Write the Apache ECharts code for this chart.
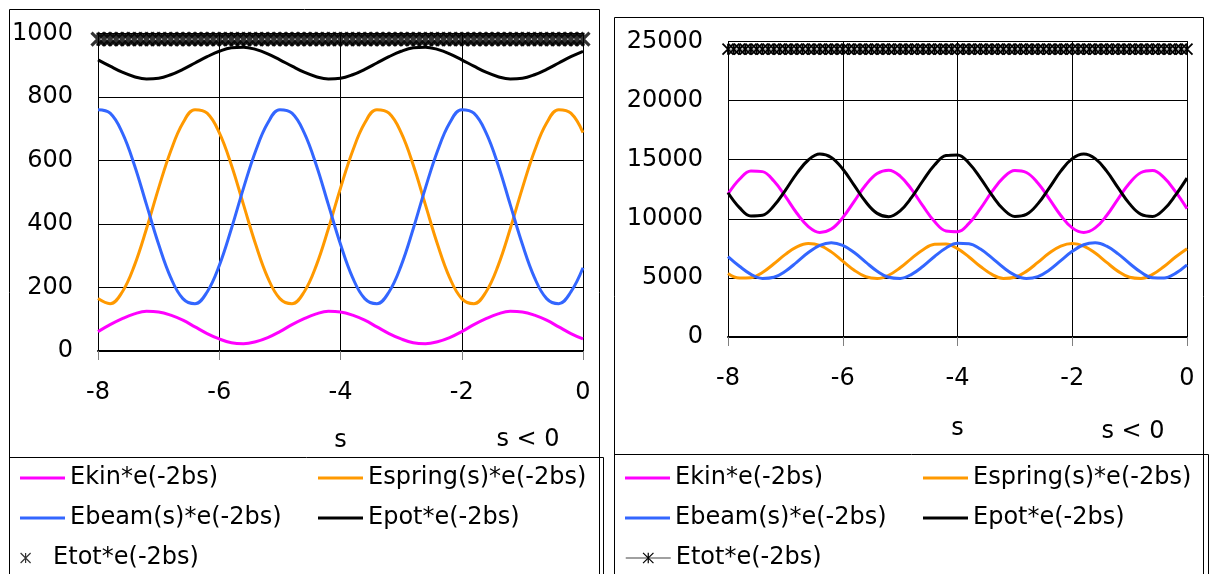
<!DOCTYPE html>
<html>
<head>
<meta charset="utf-8">
<title>Energies * e(-2bs)</title>
<script src="https://cdn.jsdelivr.net/npm/echarts@6/dist/echarts.min.js"></script>
<style>
html, body { margin: 0; padding: 0; background: #fff; }
#chart { width: 1215px; height: 574px; }
</style>
</head>
<body>
<div id="chart"></div>
<script>
// s positions of the curves (step 0.2) and of the Etot markers (step 0.1)
const sPts = [-8, -7.8, -7.6, -7.4, -7.2, -7, -6.8, -6.6, -6.4, -6.2, -6, -5.8, -5.6, -5.4, -5.2, -5,
  -4.8, -4.6, -4.4, -4.2, -4, -3.8, -3.6, -3.4, -3.2, -3, -2.8, -2.6, -2.4, -2.2, -2, -1.8, -1.6,
  -1.4, -1.2, -1, -0.8, -0.6, -0.4, -0.2, 0]
const sDense = [-8, -7.9, -7.8, -7.7, -7.6, -7.5, -7.4, -7.3, -7.2, -7.1, -7, -6.9, -6.8, -6.7, -6.6,
  -6.5, -6.4, -6.3, -6.2, -6.1, -6, -5.9, -5.8, -5.7, -5.6, -5.5, -5.4, -5.3, -5.2, -5.1, -5, -4.9,
  -4.8, -4.7, -4.6, -4.5, -4.4, -4.3, -4.2, -4.1, -4, -3.9, -3.8, -3.7, -3.6, -3.5, -3.4, -3.3, -3.2,
  -3.1, -3, -2.9, -2.8, -2.7, -2.6, -2.5, -2.4, -2.3, -2.2, -2.1, -2, -1.9, -1.8, -1.7, -1.6, -1.5,
  -1.4, -1.3, -1.2, -1.1, -1, -0.9, -0.8, -0.7, -0.6, -0.5, -0.4, -0.3, -0.2, -0.1, 0]

// tick labels
const xTicks = [-8, -6, -4, -2, 0]
const yTicksLeft = [0, 200, 400, 600, 800, 1000]
const yTicksRight = [0, 5000, 10000, 15000, 20000, 25000]

// left chart
const ekinLeft = [61, 83, 102, 117, 125, 123, 113, 97, 76, 55, 38, 26, 23, 29, 42,
  61, 83, 102, 117, 125, 123, 113, 97, 76, 55, 38, 26, 23, 29, 42,
  61, 83, 102, 117, 125, 123, 113, 97, 76, 55, 38]
const espringLeft = [165, 149, 186, 269, 385, 513, 630, 718, 760, 749, 688, 586, 461, 336, 231,
  165, 149, 186, 269, 385, 513, 630, 718, 760, 749, 688, 586, 461, 336, 231,
  165, 149, 186, 269, 385, 513, 630, 718, 760, 749, 688]
const ebeamLeft = [760, 749, 688, 586, 461, 336, 231, 165, 149, 186, 269, 385, 513, 630, 718,
  760, 749, 688, 586, 461, 336, 231, 165, 149, 186, 269, 385, 513, 630, 718,
  760, 749, 688, 586, 461, 336, 231, 165, 149, 186, 262]
const epotLeft = [917, 897, 878, 864, 857, 859, 870, 887, 907, 927, 944, 955, 957, 950, 936,
  917, 897, 878, 864, 857, 859, 870, 887, 907, 927, 944, 955, 957, 950, 936,
  917, 897, 878, 864, 857, 859, 870, 887, 907, 927, 944]
const etotLeft = [982, 982, 982, 982, 982, 982, 982, 982, 982, 982,
  982, 982, 982, 982, 982, 982, 982, 982, 982, 982,
  982, 982, 982, 982, 982, 982, 982, 982, 982, 982,
  982, 982, 982, 982, 982, 982, 982, 982, 982, 982,
  982, 982, 982, 982, 982, 982, 982, 982, 982, 982,
  982, 982, 982, 982, 982, 982, 982, 982, 982, 982,
  982, 982, 982, 982, 982, 982, 982, 982, 982, 982,
  982, 982, 982, 982, 982, 982, 982, 982, 982, 982, 982]

// right chart
const ekinRight = [12096, 13347, 14047, 13991, 13194, 11893, 10470, 9344, 8848, 9128, 10101, 11480,
  12859, 13832, 14112, 13616, 12490, 11067, 9766, 8969, 8913, 9613, 10864, 12296, 13487, 14088,
  13919, 13032, 11687, 10281, 9229, 8840, 9229, 10281, 11687, 13032, 13919, 14088, 13487, 12296, 10864]
const espringRight = [5375, 4981, 5013, 5461, 6193, 6993, 7626, 7905, 7748, 7201, 6425, 5649, 5102,
  4945, 5224, 5857, 6657, 7389, 7837, 7869, 7475, 6772, 5966, 5296, 4958, 5053, 5552, 6308, 7099,
  7691, 7910, 7691, 7099, 6308, 5552, 5053, 4958, 5296, 5966, 6772, 7475]
const ebeamRight = [6809, 5987, 5303, 4959, 5055, 5564, 6336, 7143, 7747, 7970, 7747, 7143, 6336,
  5564, 5055, 4959, 5303, 5987, 6809, 7526, 7928, 7896, 7439, 6692, 5875, 5229, 4945, 5105, 5663,
  6455, 7247, 7805, 7965, 7681, 7035, 6218, 5471, 5014, 4982, 5384, 6101]
const epotRight = [12205, 10948, 10243, 10300, 11101, 12410, 13841, 14973, 15472, 15191, 14212,
  12825, 11438, 10459, 10178, 10677, 11809, 13240, 14549, 15350, 15407, 14702, 13445, 12005, 10806,
  10203, 10372, 11264, 12617, 14030, 15089, 15480, 15089, 14030, 12617, 11264, 10372, 10203, 10806,
  12005, 13445]
const etotRight = [24350, 24350, 24350, 24350, 24350, 24350, 24350, 24350, 24350, 24350,
  24350, 24350, 24350, 24350, 24350, 24350, 24350, 24350, 24350, 24350,
  24350, 24350, 24350, 24350, 24350, 24350, 24350, 24350, 24350, 24350,
  24350, 24350, 24350, 24350, 24350, 24350, 24350, 24350, 24350, 24350,
  24350, 24350, 24350, 24350, 24350, 24350, 24350, 24350, 24350, 24350,
  24350, 24350, 24350, 24350, 24350, 24350, 24350, 24350, 24350, 24350,
  24350, 24350, 24350, 24350, 24350, 24350, 24350, 24350, 24350, 24350,
  24350, 24350, 24350, 24350, 24350, 24350, 24350, 24350, 24350, 24350, 24350]

const FONT = 'DejaVu Sans'
const FS = 24
const STAR = 'path://M0,0L10,10M10,0L0,10M5,0L5,10'
const MAGENTA = '#ff00ff'
const ORANGE = '#ff9900'
const BLUE = '#3366ff'

// right-hand series get a suffix so each legend picks its own series
const SUFFIX = ' #R'
const NAMES = ['Ekin*e(-2bs)', 'Espring(s)*e(-2bs)', 'Ebeam(s)*e(-2bs)', 'Epot*e(-2bs)', 'Etot*e(-2bs)']

function pairs(xs, ys) {
  return xs.map((x, i) => [x, ys[i]])
}

function xAxisFor(gridIndex, nameGap) {
  return {
    type: 'value',
    gridIndex: gridIndex,
    min: xTicks[0],
    max: xTicks[xTicks.length - 1],
    interval: xTicks[1] - xTicks[0],
    name: 's',
    nameLocation: 'middle',
    nameGap: nameGap,
    nameTextStyle: { fontFamily: FONT, fontSize: FS, color: '#000' },
    axisLine: { show: true, onZero: false, lineStyle: { color: '#000', width: 2 } },
    axisTick: { show: true, length: 9, lineStyle: { color: '#808080', width: 1 } },
    axisLabel: { fontFamily: FONT, fontSize: FS, color: '#000', margin: 30 },
    splitLine: { show: true, lineStyle: { color: '#000', width: 1 } }
  }
}

function yAxisFor(gridIndex, ticks) {
  return {
    type: 'value',
    gridIndex: gridIndex,
    min: ticks[0],
    max: ticks[ticks.length - 1],
    interval: ticks[1] - ticks[0],
    axisLine: { show: true, lineStyle: { color: '#000', width: 1 } },
    axisTick: { show: false },
    axisLabel: {
      fontFamily: FONT, fontSize: FS, color: '#000', margin: 25,
      formatter: function (v) { return String(v) }
    },
    splitLine: { show: true, lineStyle: { color: '#000', width: 1 } }
  }
}

function curve(name, idx, xs, ys, color) {
  return {
    name: name,
    type: 'line',
    xAxisIndex: idx,
    yAxisIndex: idx,
    data: pairs(xs, ys),
    symbol: 'none',
    smooth: 0.4,
    lineStyle: { color: color, width: 3 },
    itemStyle: { color: color }
  }
}

function legendItem(name, left, top, extra) {
  const item = {
    left: left,
    top: top,
    padding: 0,
    selectedMode: false,
    data: [{ name: name, icon: 'rect' }],
    itemWidth: 45,
    itemHeight: 3,
    formatter: function (n) { return n.replace(SUFFIX, '') },
    textStyle: { fontFamily: FONT, fontSize: FS, color: '#000', lineHeight: 24 }
  }
  return Object.assign(item, extra || {})
}

const chart = echarts.init(document.getElementById('chart'))
chart.setOption({
  animation: false,
  backgroundColor: '#fff',
  grid: [
    { left: 98, top: 33.5, width: 485, height: 317.5, outerBoundsMode: 'none' },
    { left: 728, top: 41.5, width: 459, height: 295.5, outerBoundsMode: 'none' }
  ],
  xAxis: [xAxisFor(0, 78), xAxisFor(1, 80)],
  yAxis: [yAxisFor(0, yTicksLeft), yAxisFor(1, yTicksRight)],
  legend: [
    legendItem(NAMES[0], 20, 466),
    legendItem(NAMES[1], 318, 466),
    legendItem(NAMES[2], 20, 506),
    legendItem(NAMES[3], 318, 506),
    legendItem(NAMES[4], 20, 546, {
      data: [{ name: NAMES[4], icon: STAR }],
      itemHeight: 10,
      itemStyle: { color: '#000', borderColor: '#000', borderWidth: 1.2 }
    }),
    legendItem(NAMES[0] + SUFFIX, 625, 466),
    legendItem(NAMES[1] + SUFFIX, 923, 466),
    legendItem(NAMES[2] + SUFFIX, 625, 506),
    legendItem(NAMES[3] + SUFFIX, 923, 506),
    legendItem(NAMES[4] + SUFFIX, 625, 546, {
      data: [NAMES[4] + SUFFIX],
      itemHeight: 13,
      itemStyle: { color: '#000', borderColor: '#000', borderWidth: 1.2 },
      lineStyle: { color: '#808080', width: 1.5 }
    })
  ],
  graphic: [
    { type: 'rect', silent: true, shape: { x: 9.5, y: 9.5, width: 590, height: 600 }, style: { fill: 'none', stroke: '#000', lineWidth: 1 } },
    { type: 'rect', silent: true, shape: { x: 9.5, y: 457.5, width: 594, height: 200 }, style: { fill: 'none', stroke: '#000', lineWidth: 1 } },
    { type: 'rect', silent: true, shape: { x: 614.5, y: 17.5, width: 589, height: 600 }, style: { fill: 'none', stroke: '#000', lineWidth: 1 } },
    { type: 'rect', silent: true, shape: { x: 614.5, y: 454.5, width: 594, height: 200 }, style: { fill: 'none', stroke: '#000', lineWidth: 1 } },
    { type: 'text', silent: true, x: 528, y: 440, style: { text: 's < 0', fontFamily: FONT, fontSize: FS, fill: '#000', align: 'center', verticalAlign: 'middle' } },
    { type: 'text', silent: true, x: 1133, y: 432, style: { text: 's < 0', fontFamily: FONT, fontSize: FS, fill: '#000', align: 'center', verticalAlign: 'middle' } }
  ],
  series: [
    curve(NAMES[0], 0, sPts, ekinLeft, MAGENTA),
    curve(NAMES[1], 0, sPts, espringLeft, ORANGE),
    curve(NAMES[2], 0, sPts, ebeamLeft, BLUE),
    curve(NAMES[3], 0, sPts, epotLeft, '#000'),
    {
      name: NAMES[4],
      type: 'scatter',
      xAxisIndex: 0,
      yAxisIndex: 0,
      data: pairs(sDense, etotLeft),
      symbol: STAR,
      symbolSize: 13,
      itemStyle: { color: '#000', borderColor: '#000', borderWidth: 3.2 }
    },
    curve(NAMES[0] + SUFFIX, 1, sPts, ekinRight, MAGENTA),
    curve(NAMES[1] + SUFFIX, 1, sPts, espringRight, ORANGE),
    curve(NAMES[2] + SUFFIX, 1, sPts, ebeamRight, BLUE),
    curve(NAMES[3] + SUFFIX, 1, sPts, epotRight, '#000'),
    {
      name: NAMES[4] + SUFFIX,
      type: 'line',
      xAxisIndex: 1,
      yAxisIndex: 1,
      data: pairs(sDense, etotRight),
      symbol: STAR,
      symbolSize: 11,
      showSymbol: true,
      lineStyle: { color: '#808080', width: 1 },
      itemStyle: { color: '#000', borderColor: '#000', borderWidth: 1.8 }
    }
  ]
})
</script>
</body>
</html>
